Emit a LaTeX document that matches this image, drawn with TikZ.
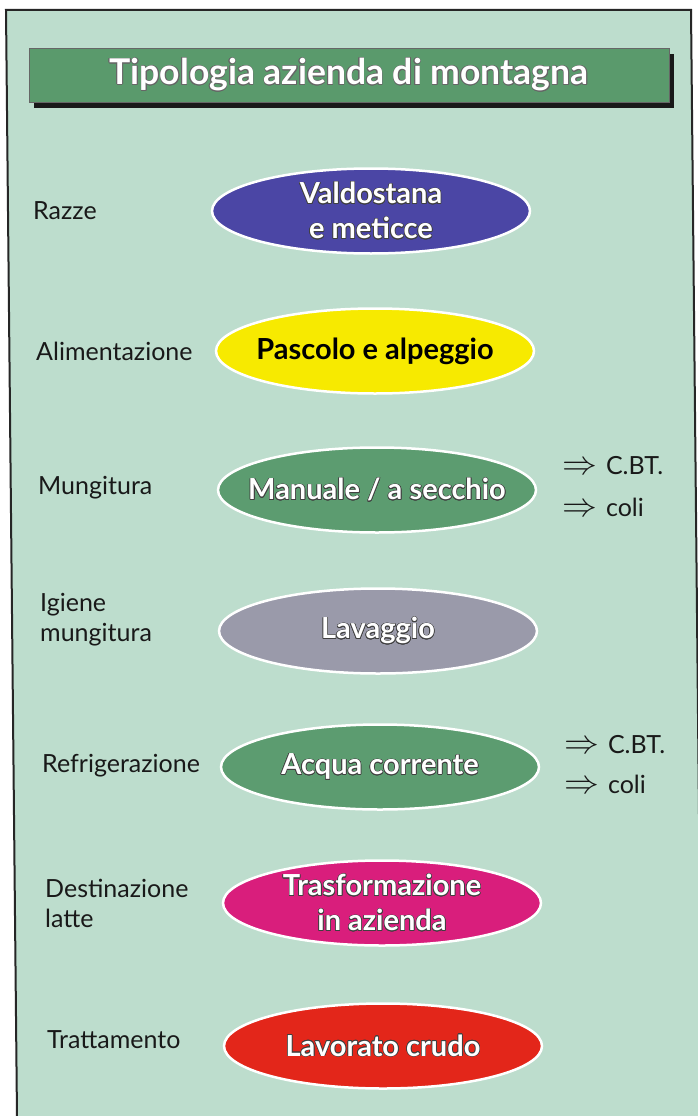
\documentclass[tikz,border=0pt]{standalone}
\usepackage{fontspec}
\setmainfont{Lato}
\usepackage{contour}
\contourlength{0.6pt}
\usetikzlibrary{shapes.geometric}
\definecolor{panel}{RGB}{189,221,205}
\definecolor{tgreen}{RGB}{90,154,108}
\definecolor{cblue}{RGB}{75,70,165}
\definecolor{cyellow}{RGB}{247,234,0}
\definecolor{cgreen}{RGB}{92,156,112}
\definecolor{cgray}{RGB}{154,154,170}
\definecolor{cmag}{RGB}{217,30,124}
\definecolor{cred}{RGB}{227,38,26}
\newcommand{\ot}[1]{\contour{black!75}{#1}}
\newcommand{\imp}{\scalebox{1.4}[1.35]{$\Rightarrow$}\hspace{9pt}}
\tikzset{
  oval/.style={ellipse, draw=white, line width=2.5pt, inner sep=0pt, minimum width=318pt, minimum height=85pt},
  otext/.style={text=white, font=\fontsize{29}{35}\selectfont\bfseries, align=center, inner sep=0pt},
  lab/.style={anchor=west, font=\fontsize{25}{30}\selectfont, align=left, inner sep=0pt, text=black!90},
  note/.style={anchor=west, font=\fontsize{25}{30}\selectfont, inner sep=0pt, text=black!90}
}
\begin{document}
\begin{tikzpicture}[x=1pt,y=-1pt]
\fill[white] (0,0) rectangle (697,1116);
\useasboundingbox (0,0) rectangle (697,1116);
% panel
\fill[panel] (6,10) -- (691,10) -- (702,1116) -- (17,1116) -- cycle;
\draw[line width=2pt, black!85] (17,1117) -- (6,10) -- (691,10) -- (702,1117);
% title
\fill[black!90] (34,54) rectangle (674,108);
\node[fill=tgreen, draw=black!60, line width=0.6pt, minimum width=640pt, minimum height=54pt, inner sep=0pt] (title) at (349,75) {};
\node[text=white, font=\fontsize{35.5}{40}\selectfont\bfseries, inner sep=0pt] (tt) at (title) {\contour{black!60}{Tipologia azienda di montagna}};
% ovals
\node[oval, fill=cblue] (e1) at (371,211) {};
\node[otext] (t1) at (e1) {\ot{Valdostana}\\\ot{e meticce}};
\node[oval, fill=cyellow] (e2) at (375,351) {};
\node[otext, text=black] (t2) at (e2) {Pascolo e alpeggio};
\node[oval, fill=cgreen] (e3) at (377,490) {};
\node[otext] (t3) at (e3) {\ot{Manuale / a secchio}};
\node[oval, fill=cgray] (e4) at (378,631) {};
\node[otext] (t4) at (e4) {\ot{Lavaggio}};
\node[oval, fill=cgreen] (e5) at (380,767) {};
\node[otext] (t5) at (e5) {\ot{Acqua corrente}};
\node[oval, fill=cmag] (e6) at (382,903) {};
\node[otext] (t6) at (e6) {\ot{Trasformazione}\\\ot{in azienda}};
\node[oval, fill=cred] (e7) at (383,1046) {};
\node[otext] (t7) at (e7) {\ot{Lavorato crudo}};
% left labels
\node[lab] (l1) at (33,211) {Razze};
\node[lab] (l2) at (36,351) {Alimentazione};
\node[lab] (l3) at (38,488) {Mungitura};
\node[lab] (l4) at (40,620) {Igiene\\mungitura};
\node[lab] (l5) at (42,766) {Refrigerazione};
\node[lab] (l6) at (45,903) {Destinazione\\latte};
\node[lab] (l7) at (47,1040) {Trattamento};
% right notes
\node[note] (n1) at (562,466) {\imp C.BT.};
\node[note] (n2) at (562,507) {\imp coli};
\node[note] (n3) at (564,745) {\imp C.BT.};
\node[note] (n4) at (564,784) {\imp coli};
\end{tikzpicture}
\end{document}
